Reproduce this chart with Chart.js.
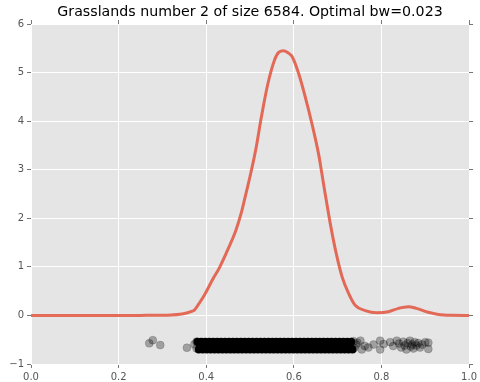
<!DOCTYPE html>
<html>
<head>
<meta charset="utf-8">
<script src="https://cdn.jsdelivr.net/npm/chart.js@4/dist/chart.umd.min.js"></script>
<style>
  html, body { margin: 0; padding: 0; background: #ffffff; }
  #wrap { width: 480px; height: 382px; }
</style>
</head>
<body>
<div id="wrap"><canvas id="c"></canvas></div>
<script>
// Kernel density estimate of the sample
const kdeX = [0, 0.10, 0.20, 0.25, 0.30, 0.32, 0.34, 0.355, 0.365, 0.373, 0.384, 0.396, 0.414, 0.430, 0.452, 0.468,
  0.480, 0.491, 0.500, 0.513, 0.526, 0.541, 0.556, 0.566, 0.577, 0.588, 0.596, 0.611, 0.626, 0.641, 0.657, 0.664,
  0.672, 0.683, 0.695, 0.710, 0.725, 0.740, 0.763, 0.789, 0.816, 0.839, 0.861, 0.880, 0.907, 0.930, 0.960, 1.0];
const kdeY = [0, 0, 0, 0.001, 0.004, 0.01, 0.025, 0.05, 0.08, 0.11, 0.25, 0.42, 0.73, 0.98, 1.41, 1.76,
  2.11, 2.52, 2.86, 3.41, 4.09, 4.78, 5.26, 5.42, 5.45, 5.40, 5.33, 4.98, 4.50, 3.96, 3.30, 2.92,
  2.48, 1.90, 1.35, 0.80, 0.455, 0.21, 0.10, 0.056, 0.076, 0.146, 0.18, 0.146, 0.064, 0.02, 0.003, 0];

// Rug of observations: the crowded core of the sample
const coreX = [
  0.380, 0.383, 0.386, 0.389, 0.392, 0.395, 0.398, 0.401, 0.404, 0.407,
  0.410, 0.413, 0.416, 0.419, 0.422, 0.425, 0.428, 0.431, 0.434, 0.437,
  0.440, 0.443, 0.446, 0.449, 0.452, 0.455, 0.458, 0.461, 0.464, 0.467,
  0.470, 0.473, 0.476, 0.479, 0.482, 0.485, 0.488, 0.491, 0.494, 0.497,
  0.500, 0.503, 0.506, 0.509, 0.512, 0.515, 0.518, 0.521, 0.524, 0.527,
  0.530, 0.533, 0.536, 0.539, 0.542, 0.545, 0.548, 0.551, 0.554, 0.557,
  0.560, 0.563, 0.566, 0.569, 0.572, 0.575, 0.578, 0.581, 0.584, 0.587,
  0.590, 0.593, 0.596, 0.599, 0.602, 0.605, 0.608, 0.611, 0.614, 0.617,
  0.620, 0.623, 0.626, 0.629, 0.632, 0.635, 0.638, 0.641, 0.644, 0.647,
  0.650, 0.653, 0.656, 0.659, 0.662, 0.665, 0.668, 0.671, 0.674, 0.677,
  0.680, 0.683, 0.686, 0.689, 0.692, 0.695, 0.698, 0.701, 0.704, 0.707,
  0.710, 0.713, 0.716, 0.719, 0.722, 0.725, 0.728, 0.731, 0.734];
const coreY = [
  -0.54, -0.70, -0.62, -0.54, -0.70, -0.62, -0.54, -0.70, -0.62,
  -0.54, -0.70, -0.62, -0.54, -0.70, -0.62, -0.54, -0.70, -0.62,
  -0.54, -0.70, -0.62, -0.54, -0.70, -0.62, -0.54, -0.70, -0.62,
  -0.54, -0.70, -0.62, -0.54, -0.70, -0.62, -0.54, -0.70, -0.62,
  -0.54, -0.70, -0.62, -0.54, -0.70, -0.62, -0.54, -0.70, -0.62,
  -0.54, -0.70, -0.62, -0.54, -0.70, -0.62, -0.54, -0.70, -0.62,
  -0.54, -0.70, -0.62, -0.54, -0.70, -0.62, -0.54, -0.70, -0.62,
  -0.54, -0.70, -0.62, -0.54, -0.70, -0.62, -0.54, -0.70, -0.62,
  -0.54, -0.70, -0.62, -0.54, -0.70, -0.62, -0.54, -0.70, -0.62,
  -0.54, -0.70, -0.62, -0.54, -0.70, -0.62, -0.54, -0.70, -0.62,
  -0.54, -0.70, -0.62, -0.54, -0.70, -0.62, -0.54, -0.70, -0.62,
  -0.54, -0.70, -0.62, -0.54, -0.70, -0.62, -0.54, -0.70, -0.62,
  -0.54, -0.70, -0.62, -0.54, -0.70, -0.62, -0.54, -0.70, -0.62,
  -0.54, -0.70];

// Rug of observations: the sparse tails
const tailX = [0.270, 0.278, 0.295, 0.356, 0.373, 0.378, 0.378, 0.736, 0.738, 0.742, 0.745, 0.752, 0.755,
  0.762, 0.770, 0.782, 0.797, 0.797, 0.805, 0.820, 0.827, 0.835, 0.840, 0.845, 0.850, 0.853,
  0.857, 0.860, 0.865, 0.867, 0.870, 0.873, 0.876, 0.880, 0.884, 0.888, 0.893, 0.900, 0.907, 0.907];
const tailY = [-0.575, -0.51, -0.61, -0.665, -0.595, -0.54, -0.68, -0.53, -0.67, -0.60, -0.56, -0.52, -0.70,
  -0.63, -0.66, -0.60, -0.52, -0.70, -0.59, -0.55, -0.63, -0.52, -0.58, -0.66, -0.54, -0.62,
  -0.70, -0.57, -0.52, -0.64, -0.60, -0.68, -0.55, -0.62, -0.57, -0.66, -0.60, -0.55, -0.56, -0.69];

const xTicks = [0, 0.2, 0.4, 0.6, 0.8, 1.0];
const yTicks = [-1, 0, 1, 2, 3, 4, 5, 6];
const titleText = 'Grasslands number 2 of size 6584. Optimal bw=0.023';

const zip = (xs, ys) => xs.map((x, i) => ({ x, y: ys[i] }));
const fmtY = v => (v < 0 ? '\u2212' + Math.abs(v) : String(v));

const plotBg = {
  id: 'plotBg',
  beforeDraw(chart) {
    const { ctx, chartArea: a } = chart;
    ctx.save();
    ctx.fillStyle = '#e5e5e5';
    ctx.fillRect(a.left, a.top, a.right - a.left, a.bottom - a.top);
    ctx.restore();
  }
};

const tickFont = { family: 'DejaVu Sans', size: 10 };

new Chart(document.getElementById('c'), {
  type: 'scatter',
  data: {
    datasets: [
      {
        label: 'density',
        data: zip(kdeX, kdeY),
        showLine: true,
        borderColor: 'rgba(226,74,51,0.8)',
        borderWidth: 3,
        pointRadius: 0,
        cubicInterpolationMode: 'monotone',
        order: 2
      },
      {
        label: 'core',
        data: zip(coreX, coreY),
        pointRadius: 4,
        pointBackgroundColor: '#000000',
        pointBorderColor: '#000000',
        pointBorderWidth: 0,
        order: 1
      },
      {
        label: 'tails',
        data: zip(tailX, tailY),
        pointRadius: 4,
        pointBackgroundColor: 'rgba(0,0,0,0.3)',
        pointBorderColor: 'rgba(0,0,0,0.3)',
        pointBorderWidth: 0.5,
        order: 1
      }
    ]
  },
  options: {
    responsive: true,
    maintainAspectRatio: false,
    animation: false,
    layout: { padding: 0 },
    plugins: {
      legend: { display: false },
      tooltip: { enabled: false },
      title: { display: false }
    },
    scales: {
      x: {
        type: 'linear', position: 'bottom', min: 0, max: 1,
        afterBuildTicks: s => { s.ticks = xTicks.map(v => ({ value: v })); },
        afterFit: s => { s.height = 18; },
        grid: { color: '#ffffff', lineWidth: 1, tickColor: '#777777', tickLength: 4 },
        border: { display: false },
        ticks: { color: '#555555', font: tickFont, padding: 3, maxRotation: 0,
                 callback: v => v.toFixed(1) }
      },
      x2: {
        type: 'linear', position: 'top', min: 0, max: 1,
        afterBuildTicks: s => { s.ticks = xTicks.map(v => ({ value: v })); },
        afterFit: s => { s.height = 24; },
        grid: { drawOnChartArea: false, tickColor: '#777777', tickLength: 4 },
        border: { display: false },
        ticks: { display: false },
        // the chart title, centred over the plotting area
        title: {
          display: true,
          text: titleText,
          color: '#000000',
          font: { family: 'DejaVu Sans', size: 14.2, weight: 'normal' },
          padding: { top: 4, bottom: 0 }
        }
      },
      y: {
        type: 'linear', position: 'left', min: -1, max: 6,
        afterBuildTicks: s => { s.ticks = yTicks.map(v => ({ value: v })); },
        afterFit: s => { s.width = 31; },
        grid: { color: '#ffffff', lineWidth: 1, tickColor: '#777777', tickLength: 4 },
        border: { display: false },
        ticks: { color: '#555555', font: tickFont, padding: 3, callback: v => fmtY(v) }
      },
      y2: {
        type: 'linear', position: 'right', min: -1, max: 6,
        afterBuildTicks: s => { s.ticks = yTicks.map(v => ({ value: v })); },
        afterFit: s => { s.width = 9; },
        grid: { drawOnChartArea: false, tickColor: '#777777', tickLength: 4 },
        border: { display: false },
        ticks: { display: false }
      }
    }
  },
  plugins: [plotBg]
});
</script>
</body>
</html>
